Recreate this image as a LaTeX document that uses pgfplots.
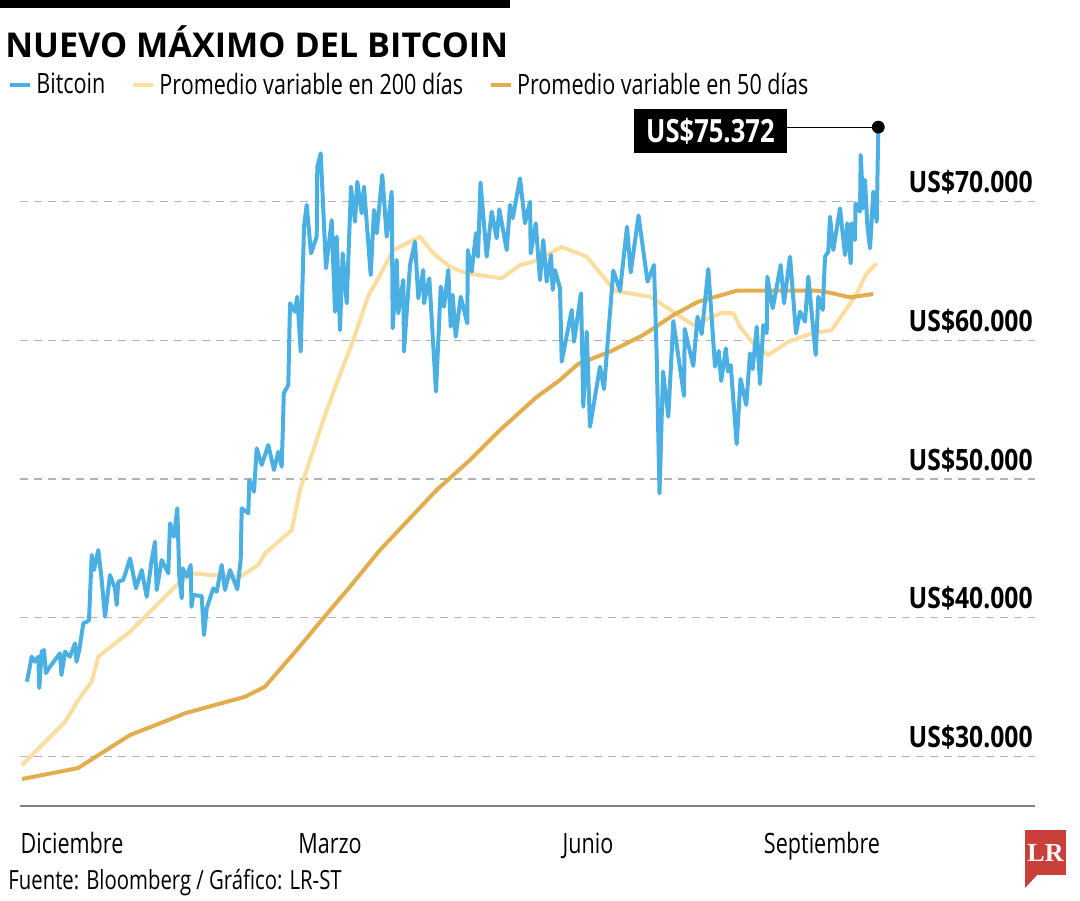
\documentclass[border=0pt]{standalone}
\usepackage{fontspec}
\setmainfont{Open Sans}[FakeStretch=0.77]
\newfontfamily\titlefont{Open Sans}
\newfontfamily\labfont{Open Sans}[FakeStretch=0.84]
\newfontfamily\boxfont{Open Sans}[FakeStretch=0.8]
\newfontfamily\lrfont{Liberation Serif}
\usepackage{pgfplots}
\usepackage{pgfplotstable}
\pgfplotsset{compat=1.18}
\definecolor{btc}{HTML}{4AAFE3}
\definecolor{maA}{HTML}{FCDDA0}
\definecolor{maB}{HTML}{E2AD4E}
\definecolor{lrred}{HTML}{C9403A}

\pgfplotstableread{
x y
27 35390
31.7 37190
35 36830
38.3 37190
39.3 34930
41.7 37550
44 37670
46 36010
50 36470
55 36950
60 37430
61.5 35870
65 37550
70 37190
75 38150
76.5 36830
79.3 37670
83.3 39600
87 39710
89 39830
91.7 44520
94 43440
98.3 44880
101.7 42720
105 40070
110 43080
115 42120
116.7 40920
118.3 42600
123.3 42720
130 44280
136 42120
141.7 43440
146.7 41510
151.7 44160
155 45480
156.7 42000
161.7 44160
168.3 43200
170 46810
174 45840
177.3 47890
179.3 42960
181.7 41400
182.7 43560
186.7 42960
190.7 43800
191.5 40790
193.3 41640
201.7 41560
204 38750
206.7 40680
213.3 42120
216.7 41870
221.7 43800
225 42000
230 43440
237.3 42050
240.7 44160
241.7 47890
248.3 47530
249.3 49930
254 49080
256.7 52210
261.7 51010
268.3 52450
274 50650
278.3 51970
281.7 50890
283.3 54740
283.8 56180
288.3 56780
290 62670
295 62060
297.3 63140
300.7 59180
304 68190
306.7 69760
311 66270
316.7 67470
317.3 72520
320.7 73480
326 65190
331.7 68670
335 62060
336.7 67470
340 60740
342.7 66270
346.7 62670
351 71080
355 68550
357.3 71440
361.7 69160
364 71080
370.7 64710
374 69400
376.7 67720
382.3 71920
386.7 67470
391.7 70720
392.7 60870
396.7 65790
398.3 61950
403.3 64350
404 59180
410 65430
415 67110
418.3 63030
423.3 65070
424 62670
429.3 64470
436 56300
440.7 63870
444 62420
448.3 65070
450.7 60980
452.7 63270
455.7 60260
460.7 63140
467.3 61230
467.8 66510
471.7 64950
476 67720
478 66030
480.5 71380
486.7 66030
491.7 69270
496.7 67360
499.3 69450
506.7 66510
510 69760
512.7 68800
520 71680
525 68440
530 69990
530.7 66270
535.7 68440
540 64350
543.3 67230
546.7 64230
551 66150
552.7 63630
555 65070
560 63750
561.7 58460
571.7 62190
574 59900
581 63390
583.3 55210
586.7 60620
590 53770
600 58100
604 56490
613.3 65030
620 63560
627 68190
630.7 64890
638.5 69000
647.5 64230
654 65430
656.7 58820
659.5 48970
663 57740
668.3 54490
673.3 61390
684 55990
684.7 60820
693.3 58150
697.5 61700
701.7 60460
708.3 65140
715 58100
718.7 59230
721.2 57070
725.8 59420
728 57750
730.7 58220
736.7 52520
740.5 57210
746.3 55340
750 59060
752.7 57930
756.7 60980
760 56850
763.3 61100
766.7 60510
767.3 64590
772.7 62310
780.7 65430
784 62670
790 66030
796 60510
800 62060
805 61340
808.3 64590
811.7 61950
815.7 58940
818.3 63140
822.7 62190
825 66030
828.3 66390
830 68910
833.3 66510
840 69520
845 66150
847.3 68440
850.7 65550
851.7 68440
855 67230
855.5 69880
860 69270
860.7 73360
863.3 69520
865 71560
867.3 68310
870 66630
873.3 70720
876.7 68550
878.3 75372
}\btcdata

\pgfplotstableread{
x y
22 29380
65 32480
78.3 34070
91.7 35390
98.3 37190
106.7 37670
130 38990
145 40070
160 41150
178.3 42480
193.3 43200
210 43080
240 42960
258.3 43800
265 44640
291.7 46320
300 49210
310 51370
323.3 54250
336.7 56900
353.3 60020
368.3 63200
380 64710
393.3 66510
420 67470
433.3 66270
450 65310
466.7 64830
501.7 64470
520 65430
533.3 65670
561.7 66730
586.7 66030
615 63560
650 63140
673.3 62060
693.3 61100
708.3 61590
722 61990
733.3 61950
740 60980
753.3 59790
768.3 58940
788.3 59900
811.7 60510
831.7 60740
846.7 62310
855 63140
866.7 64830
876.7 65550
}\madoscientos

\pgfplotstableread{
x y
22 28370
78 29160
130 31540
168.3 32620
185 33110
245 34300
265 35030
296.7 37670
323.3 39960
350 42240
380 44880
436.7 49210
470 51370
500 53530
530 55480
535 55820
560 57140
578 58290
610 59180
643.3 60380
673.3 61820
698 62780
737 63580
816.7 63580
830 63430
850 63100
873.3 63340
}\macincuenta

\begin{document}
\begin{tikzpicture}
\path[use as bounding box] (0,0) rectangle (540pt,-450pt);
\begin{scope}[x=0.5pt,y=-0.5pt]
  \fill[black] (0,0) rectangle (510,7.5);
  \node[anchor=base west, inner sep=0pt] at (5,57)
    {\titlefont\bfseries\fontsize{17.1}{19}\selectfont NUEVO MÁXIMO DEL BITCOIN};
  \node[anchor=base west, inner sep=0pt] at (8,889)
    {\fontsize{13.2}{15}\selectfont Fuente: Bloomberg / Gráfico: LR-ST};
  \fill[lrred] (1025,830) rectangle (1066,875);
  \fill[lrred] (1025,874) -- (1038,874) -- (1025,888) -- cycle;
  \node[text=white, inner sep=0pt] at (1045.5,853)
    {\lrfont\bfseries\fontsize{13}{14}\selectfont LR};
\end{scope}
\begin{axis}[
  at={(10pt,-403pt)}, anchor=south west,
  scale only axis, width=507.5pt, height=343pt,
  xmin=20, xmax=1035, ymin=26424, ymax=75885,
  clip=false,
  scaled y ticks=false,
  axis x line*=bottom,
  axis y line*=right,
  y axis line style={draw=none},
  x axis line style={draw=black!50, line width=1.3pt, -},
  xtick={72,330,588,822},
  xticklabels={Diciembre,Marzo,Junio,Septiembre},
  major tick length=0pt,
  xticklabel style={anchor=base, yshift=-23.5pt, font=\fontsize{14}{16}\selectfont},
  ytick={30000,40000,50000,60000,70000},
  yticklabels={US\$30.000,US\$40.000,US\$50.000,US\$60.000,US\$70.000},
  ymajorgrids,
  grid style={draw=black!30, line width=0.6pt, dash pattern=on 4pt off 3pt},
  yticklabel pos=right,
  yticklabel style={anchor=base east, inner sep=0pt, xshift=-1pt, yshift=4.5pt,
    font=\labfont\bfseries\fontsize{14.7}{16}\selectfont},
  legend style={at={(-0.0118,1.051)}, anchor=west, draw=none, fill=none,
    inner sep=0pt, font=\fontsize{14}{16}\selectfont,
    /tikz/every even column/.append style={column sep=11pt}},
  legend columns=-1,
  legend image code/.code={\draw[#1, line width=2pt] (0pt,0pt) -- (10pt,0pt);},
]
\addlegendimage{btc}\addlegendentry{Bitcoin}
\addlegendimage{maA}\addlegendentry{Promedio variable en 200 días}
\addlegendimage{maB}\addlegendentry{Promedio variable en 50 días}
\addplot[maA, line width=2pt, line join=round, forget plot] table[x=x,y=y] {\madoscientos};
\addplot[maB, line width=2pt, line join=round, forget plot] table[x=x,y=y] {\macincuenta};
\addplot[btc, line width=2pt, line join=round, forget plot] table[x=x,y=y] {\btcdata};
\draw[black, line width=0.6pt] (axis cs:787,75372) -- (axis cs:878.3,75372);
\addplot[only marks, mark=*, mark size=3pt, black, forget plot] coordinates {(878.3,75372)};
\node[fill=black, text=white, anchor=east, inner xsep=6pt, minimum height=22pt, yshift=-2pt]
  at (axis cs:787,75372) {\boxfont\bfseries\fontsize{16}{18}\selectfont US\$75.372};
\end{axis}
\end{tikzpicture}
\end{document}
